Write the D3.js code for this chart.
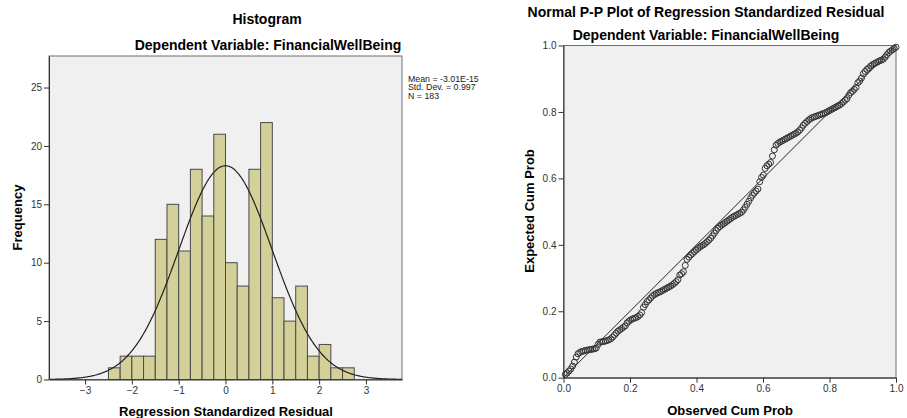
<!DOCTYPE html>
<html>
<head>
<meta charset="utf-8">
<script src="https://cdn.jsdelivr.net/npm/d3@7"></script>
<style>
  body { margin: 0; background: #fff; }
  text { font-family: Arial, "Liberation Sans", sans-serif; }
</style>
</head>
<body>
<div class="container"></div>
<script>
// histogram: bin edges (lower) and counts
const binStarts = [-2.5, -2.25, -2, -1.75, -1.5, -1.25, -1, -0.75, -0.5, -0.25, 0, 0.25, 0.5, 0.75, 1, 1.25, 1.5, 1.75, 2, 2.25, 2.5]
const binCounts = [1, 2, 2, 2, 12, 15, 11, 18, 14, 21, 10, 8, 18, 22, 7, 5, 8, 2, 3, 1, 1]
const binWidth = 0.25
const histXTicks = [-3, -2, -1, 0, 1, 2, 3]
const histYTicks = [0, 5, 10, 15, 20, 25]
const stats = { mean: -3.01e-15, sd: 0.997, n: 183 }
const legendLines = ["Mean = -3.01E-15", "Std. Dev. = 0.997", "N = 183"]

// P-P plot: expected cum prob of each sorted residual
const expectedCum = [
  0.010, 0.014, 0.020, 0.026, 0.035, 0.047, 0.062, 0.072, 0.076, 0.079,
  0.080, 0.082, 0.083, 0.084, 0.085, 0.086, 0.087, 0.089, 0.100, 0.107,
  0.108, 0.109, 0.110, 0.112, 0.114, 0.117, 0.122, 0.128, 0.134, 0.140,
  0.144, 0.148, 0.152, 0.156, 0.165, 0.170, 0.174, 0.177, 0.179, 0.181,
  0.184, 0.189, 0.196, 0.212, 0.220, 0.229, 0.234, 0.240, 0.246, 0.250,
  0.253, 0.256, 0.258, 0.261, 0.264, 0.267, 0.270, 0.273, 0.276, 0.280,
  0.284, 0.289, 0.295, 0.309, 0.313, 0.319, 0.338, 0.356, 0.363, 0.369,
  0.374, 0.379, 0.384, 0.389, 0.393, 0.397, 0.400, 0.404, 0.409, 0.414,
  0.420, 0.427, 0.435, 0.443, 0.450, 0.455, 0.459, 0.463, 0.467, 0.471,
  0.475, 0.479, 0.483, 0.486, 0.489, 0.492, 0.495, 0.498, 0.505, 0.513,
  0.522, 0.531, 0.541, 0.549, 0.556, 0.562, 0.568, 0.590, 0.603, 0.610,
  0.630, 0.638, 0.643, 0.648, 0.667, 0.686, 0.700, 0.705, 0.709, 0.712,
  0.715, 0.718, 0.721, 0.724, 0.727, 0.730, 0.733, 0.736, 0.740, 0.745,
  0.752, 0.760, 0.766, 0.771, 0.776, 0.780, 0.783, 0.785, 0.787, 0.789,
  0.791, 0.793, 0.795, 0.797, 0.800, 0.803, 0.806, 0.809, 0.812, 0.815,
  0.818, 0.821, 0.825, 0.830, 0.835, 0.840, 0.850, 0.858, 0.862, 0.868,
  0.874, 0.888, 0.893, 0.902, 0.915, 0.922, 0.928, 0.932, 0.938, 0.942,
  0.945, 0.948, 0.951, 0.954, 0.956, 0.959, 0.965, 0.972, 0.979, 0.983,
  0.987, 0.991, 0.995
]
const ppTicks = [0, 0.2, 0.4, 0.6, 0.8, 1.0]

const width = 907, height = 418
const svg = d3.select(".container").append("svg")
  .attr("width", width).attr("height", height)

// ---------- histogram ----------
const hm = { left: 49, right: 402, top: 56, bottom: 379.5 }

const hx = d3.scaleLinear().domain([-3.77, 3.77]).range([hm.left, hm.right])
const hy = d3.scaleLinear().domain([0, 27.7]).range([hm.bottom, hm.top])

svg.append("rect")
  .attr("x", hm.left).attr("y", hm.top)
  .attr("width", hm.right - hm.left).attr("height", hm.bottom - hm.top)
  .attr("fill", "#f0f0f0").attr("stroke", "#6e6e6e")

const bins = binStarts.map((b, i) => ({ x0: b, x1: b + binWidth, count: binCounts[i] }))

svg.append("g")
  .selectAll("rect")
  .data(bins)
  .join("rect")
  .attr("x", d => hx(d.x0))
  .attr("y", d => hy(d.count))
  .attr("width", d => hx(d.x1) - hx(d.x0))
  .attr("height", d => hy(0) - hy(d.count))
  .attr("fill", "#d4d09a")
  .attr("stroke", "#4a4a4a")
  .attr("stroke-width", 1)

// fitted normal curve from the legend's mean / sd / n
const curveX = d3.range(-3.77, 3.771, 0.02)
const pdf = x => Math.exp(-0.5 * ((x - stats.mean) / stats.sd) ** 2) / (stats.sd * Math.sqrt(2 * Math.PI))
svg.append("path")
  .datum(curveX)
  .attr("fill", "none")
  .attr("stroke", "#222")
  .attr("stroke-width", 1.2)
  .attr("d", d3.line().x(d => hx(d)).y(d => hy(stats.n * binWidth * pdf(d))))

const hxAxis = g => g
  .attr("transform", `translate(0,${hm.bottom})`)
  .call(d3.axisBottom(hx).tickValues(histXTicks).tickSize(5).tickPadding(2).tickSizeOuter(0))
  .call(g => g.select(".domain").attr("stroke", "#333"))

const hyAxis = g => g
  .attr("transform", `translate(${hm.left},0)`)
  .call(d3.axisLeft(hy).tickValues(histYTicks).tickSize(5).tickPadding(2).tickSizeOuter(0))
  .call(g => g.select(".domain").attr("stroke", "#333"))

svg.append("g").call(hxAxis)
svg.append("g").call(hyAxis)

// legend
svg.append("g")
  .selectAll("text")
  .data(legendLines)
  .join("text")
  .attr("x", 408)
  .attr("y", (d, i) => 81.5 + i * 8.5)
  .attr("font-size", 8.8)
  .attr("fill", "#222")
  .text(d => d)

svg.append("text").attr("x", 267).attr("y", 24)
  .attr("text-anchor", "middle").attr("font-size", 14).attr("font-weight", "bold")
  .text("Histogram")
svg.append("text").attr("x", 268).attr("y", 50)
  .attr("text-anchor", "middle").attr("font-size", 14).attr("font-weight", "bold")
  .text("Dependent Variable: FinancialWellBeing")
svg.append("text").attr("x", 226).attr("y", 416)
  .attr("text-anchor", "middle").attr("font-size", 13).attr("font-weight", "bold")
  .text("Regression Standardized Residual")
svg.append("text")
  .attr("transform", "translate(22,217.5) rotate(-90)")
  .attr("text-anchor", "middle").attr("font-size", 13).attr("font-weight", "bold")
  .text("Frequency")

// ---------- P-P plot ----------
const pm = { left: 563.5, right: 896, top: 45.5, bottom: 377.7 }

const px = d3.scaleLinear().domain([0, 1]).range([pm.left, pm.right])
const py = d3.scaleLinear().domain([0, 1]).range([pm.bottom, pm.top])

svg.append("rect")
  .attr("x", pm.left).attr("y", pm.top)
  .attr("width", pm.right - pm.left).attr("height", pm.bottom - pm.top)
  .attr("fill", "#f0f0f0").attr("stroke", "#6e6e6e")

svg.append("line")
  .attr("x1", px(0)).attr("y1", py(0))
  .attr("x2", px(1)).attr("y2", py(1))
  .attr("stroke", "#222").attr("stroke-width", 1)

const N = expectedCum.length
const ppPoints = expectedCum.map((e, i) => ({ obs: (i + 1) / N, exp: e }))

svg.append("g")
  .selectAll("circle")
  .data(ppPoints)
  .join("circle")
  .attr("cx", d => px(d.obs))
  .attr("cy", d => py(d.exp))
  .attr("r", 3)
  .attr("fill", "none")
  .attr("stroke", "#333")
  .attr("stroke-width", 1)

const pxAxis = g => g
  .attr("transform", `translate(0,${pm.bottom})`)
  .call(d3.axisBottom(px).tickValues(ppTicks).tickFormat(d3.format(".1f")).tickSize(5).tickPadding(2).tickSizeOuter(0))
  .call(g => g.select(".domain").attr("stroke", "#333"))

const pyAxis = g => g
  .attr("transform", `translate(${pm.left},0)`)
  .call(d3.axisLeft(py).tickValues(ppTicks).tickFormat(d3.format(".1f")).tickSize(5).tickPadding(2).tickSizeOuter(0))
  .call(g => g.select(".domain").attr("stroke", "#333"))

svg.append("g").call(pxAxis)
svg.append("g").call(pyAxis)

svg.append("text").attr("x", 706).attr("y", 17)
  .attr("text-anchor", "middle").attr("font-size", 14).attr("font-weight", "bold")
  .text("Normal P-P Plot of Regression Standardized Residual")
svg.append("text").attr("x", 706).attr("y", 40)
  .attr("text-anchor", "middle").attr("font-size", 14).attr("font-weight", "bold")
  .text("Dependent Variable: FinancialWellBeing")
svg.append("text").attr("x", 730).attr("y", 415)
  .attr("text-anchor", "middle").attr("font-size", 13).attr("font-weight", "bold")
  .text("Observed Cum Prob")
svg.append("text")
  .attr("transform", "translate(534,211) rotate(-90)")
  .attr("text-anchor", "middle").attr("font-size", 13).attr("font-weight", "bold")
  .text("Expected Cum Prob")

svg.selectAll(".tick text").attr("font-size", 10).attr("fill", "#333").attr("font-family", "Arial, 'Liberation Sans', sans-serif")
svg.selectAll(".tick line").attr("stroke", "#333")
</script>
</body>
</html>
